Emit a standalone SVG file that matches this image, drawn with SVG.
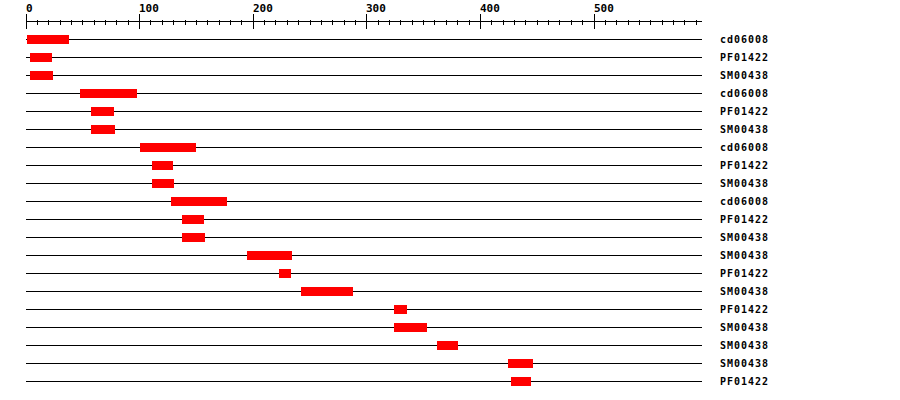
<svg xmlns="http://www.w3.org/2000/svg" width="900" height="400" viewBox="0 0 900 400">
<style>
.ax{stroke:#000;stroke-width:1;fill:none}
.row{stroke:#000;stroke-width:1}
.bar{fill:#ff0000}
.al{font-family:"DejaVu Sans Mono",monospace;font-weight:bold;font-size:11px;fill:#000}
.lb{font-family:"DejaVu Sans Mono",monospace;font-weight:bold;font-size:10px;letter-spacing:1px;fill:#000}
</style>
<rect width="900" height="400" fill="#fff"/>
<g id="axis">
<line class="ax" x1="26" y1="21.5" x2="702" y2="21.5"/>
<path class="ax" d="M26.5 14V29M139.5 14V29M253.5 14V29M366.5 14V29M480.5 14V29M594.5 14V29"/>
<path class="ax" d="M37.5 20V25M48.5 20V25M60.5 20V25M71.5 20V25M82.5 20V25M94.5 20V25M105.5 20V25M116.5 20V25M128.5 20V25M150.5 20V25M162.5 20V25M173.5 20V25M185.5 20V25M196.5 20V25M207.5 20V25M219.5 20V25M230.5 20V25M241.5 20V25M264.5 20V25M275.5 20V25M287.5 20V25M298.5 20V25M310.5 20V25M321.5 20V25M332.5 20V25M344.5 20V25M355.5 20V25M378.5 20V25M389.5 20V25M400.5 20V25M412.5 20V25M423.5 20V25M434.5 20V25M446.5 20V25M457.5 20V25M469.5 20V25M491.5 20V25M503.5 20V25M514.5 20V25M525.5 20V25M537.5 20V25M548.5 20V25M559.5 20V25M571.5 20V25M582.5 20V25M605.5 20V25M616.5 20V25M628.5 20V25M639.5 20V25M650.5 20V25M662.5 20V25M673.5 20V25M684.5 20V25M696.5 20V25"/>
<text class="al" x="26" y="11.5">0</text>
<text class="al" x="139" y="11.5">100</text>
<text class="al" x="253" y="11.5">200</text>
<text class="al" x="366" y="11.5">300</text>
<text class="al" x="480" y="11.5">400</text>
<text class="al" x="594" y="11.5">500</text>
</g>
<g id="connectors">
<line class="row" x1="26" y1="39.5" x2="702" y2="39.5"/>
<line class="row" x1="26" y1="57.5" x2="702" y2="57.5"/>
<line class="row" x1="26" y1="75.5" x2="702" y2="75.5"/>
<line class="row" x1="26" y1="93.5" x2="702" y2="93.5"/>
<line class="row" x1="26" y1="111.5" x2="702" y2="111.5"/>
<line class="row" x1="26" y1="129.5" x2="702" y2="129.5"/>
<line class="row" x1="26" y1="147.5" x2="702" y2="147.5"/>
<line class="row" x1="26" y1="165.5" x2="702" y2="165.5"/>
<line class="row" x1="26" y1="183.5" x2="702" y2="183.5"/>
<line class="row" x1="26" y1="201.5" x2="702" y2="201.5"/>
<line class="row" x1="26" y1="219.5" x2="702" y2="219.5"/>
<line class="row" x1="26" y1="237.5" x2="702" y2="237.5"/>
<line class="row" x1="26" y1="255.5" x2="702" y2="255.5"/>
<line class="row" x1="26" y1="273.5" x2="702" y2="273.5"/>
<line class="row" x1="26" y1="291.5" x2="702" y2="291.5"/>
<line class="row" x1="26" y1="309.5" x2="702" y2="309.5"/>
<line class="row" x1="26" y1="327.5" x2="702" y2="327.5"/>
<line class="row" x1="26" y1="345.5" x2="702" y2="345.5"/>
<line class="row" x1="26" y1="363.5" x2="702" y2="363.5"/>
<line class="row" x1="26" y1="381.5" x2="702" y2="381.5"/>
</g>
<g id="r1"><rect class="bar" x="27" y="35" width="42" height="9"/><text class="lb" x="720" y="42.5">cd06008</text></g>
<g id="r2"><rect class="bar" x="30" y="53" width="22" height="9"/><text class="lb" x="720" y="60.5">PF01422</text></g>
<g id="r3"><rect class="bar" x="30" y="71" width="23" height="9"/><text class="lb" x="720" y="78.5">SM00438</text></g>
<g id="r4"><rect class="bar" x="80" y="89" width="57" height="9"/><text class="lb" x="720" y="96.5">cd06008</text></g>
<g id="r5"><rect class="bar" x="91" y="107" width="23" height="9"/><text class="lb" x="720" y="114.5">PF01422</text></g>
<g id="r6"><rect class="bar" x="91" y="125" width="24" height="9"/><text class="lb" x="720" y="132.5">SM00438</text></g>
<g id="r7"><rect class="bar" x="140" y="143" width="56" height="9"/><text class="lb" x="720" y="150.5">cd06008</text></g>
<g id="r8"><rect class="bar" x="152" y="161" width="21" height="9"/><text class="lb" x="720" y="168.5">PF01422</text></g>
<g id="r9"><rect class="bar" x="152" y="179" width="22" height="9"/><text class="lb" x="720" y="186.5">SM00438</text></g>
<g id="r10"><rect class="bar" x="171" y="197" width="56" height="9"/><text class="lb" x="720" y="204.5">cd06008</text></g>
<g id="r11"><rect class="bar" x="182" y="215" width="22" height="9"/><text class="lb" x="720" y="222.5">PF01422</text></g>
<g id="r12"><rect class="bar" x="182" y="233" width="23" height="9"/><text class="lb" x="720" y="240.5">SM00438</text></g>
<g id="r13"><rect class="bar" x="247" y="251" width="45" height="9"/><text class="lb" x="720" y="258.5">SM00438</text></g>
<g id="r14"><rect class="bar" x="279" y="269" width="12" height="9"/><text class="lb" x="720" y="276.5">PF01422</text></g>
<g id="r15"><rect class="bar" x="301" y="287" width="52" height="9"/><text class="lb" x="720" y="294.5">SM00438</text></g>
<g id="r16"><rect class="bar" x="394" y="305" width="13" height="9"/><text class="lb" x="720" y="312.5">PF01422</text></g>
<g id="r17"><rect class="bar" x="394" y="323" width="33" height="9"/><text class="lb" x="720" y="330.5">SM00438</text></g>
<g id="r18"><rect class="bar" x="437" y="341" width="21" height="9"/><text class="lb" x="720" y="348.5">SM00438</text></g>
<g id="r19"><rect class="bar" x="508" y="359" width="25" height="9"/><text class="lb" x="720" y="366.5">SM00438</text></g>
<g id="r20"><rect class="bar" x="511" y="377" width="20" height="9"/><text class="lb" x="720" y="384.5">PF01422</text></g>
</svg>
